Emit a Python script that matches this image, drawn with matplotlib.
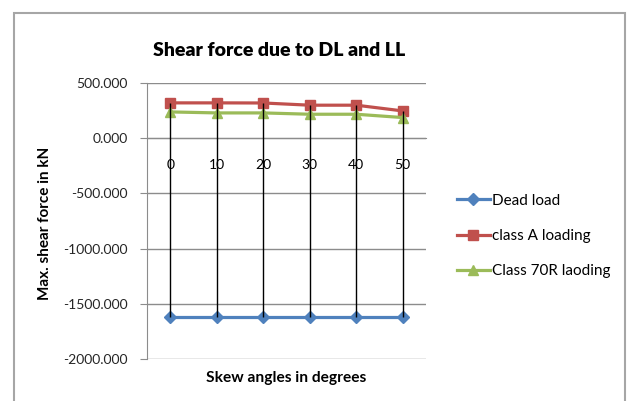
import matplotlib
matplotlib.use("Agg")
import numpy as np
from matplotlib import pyplot as plt
from matplotlib.patches import Rectangle

# Data
angles = ["0", "10", "20", "30", "40", "50"]
dead_load = [-1624, -1624, -1624, -1624, -1624, -1624]
class_a = [320, 320, 319, 299, 299, 247]
class_70r = [238, 229, 229, 217, 217, 187]
yticks = [500, 0, -500, -1000, -1500, -2000]

plt.rcParams['font.family'] = ['Lato', 'DejaVu Sans']

fig = plt.figure(figsize=(6.27, 4.01), dpi=100)
ax = fig.add_axes([147/627, 1-359/401, (426-147)/627, (359-83)/401])

x = np.arange(len(angles))

# chart frame (excel style)
fig.patches.append(Rectangle((14/627, -0.05), (625-14)/627, 1.05-13/401,
                             transform=fig.transFigure, fill=False,
                             edgecolor='#a6a6a6', linewidth=1.5))

ax.plot(x, dead_load, color='#4F81BD', lw=2.3, marker='D', ms=6, label='Dead load', zorder=3)
ax.plot(x, class_a, color='#C0504D', lw=2.3, marker='s', ms=7, label='class A loading', zorder=3)
ax.plot(x, class_70r, color='#9BBB59', lw=2.3, marker='^', ms=7, label='Class 70R laoding', zorder=3)

# high-low lines
hi = np.max([dead_load, class_a, class_70r], axis=0)
lo = np.min([dead_load, class_a, class_70r], axis=0)
ax.vlines(x, lo, hi, color='black', lw=1, zorder=4)

ax.set_xlim(-0.5, len(angles) - 0.5)
ax.set_ylim(-2000, 500)
ax.set_yticks(yticks)
ax.set_yticklabels(["%.3f" % v for v in yticks], fontsize=10, color='#262626')
ax.set_xticks(x)
ax.set_xticklabels(angles, fontsize=10.5, color='#262626')
ax.tick_params(axis='x', length=0, pad=15)
ax.tick_params(axis='y', length=5, color='#8c8c8c', pad=9)
ax.yaxis.grid(True, color='#8c8c8c', lw=1)
ax.set_axisbelow(True)

for s in ['top', 'right']:
    ax.spines[s].set_visible(False)
ax.spines['left'].set_color('#8c8c8c')
ax.spines['bottom'].set_color('#8c8c8c')
ax.spines['bottom'].set_position(('data', 0))

fig.text(279/627, 1-50/401, "Shear force due to DL and LL", ha='center', va='center',
         fontsize=14, fontweight='heavy', color='black')
fig.text(286/627, 1-378/401, "Skew angles in degrees", ha='center', va='center',
         fontsize=11.2, fontweight='bold', color='black')
fig.text(45/627, 1-223/401, "Max. shear force in kN", ha='center', va='center',
         rotation=90, fontsize=11, fontweight='bold', color='black')

fig.legend(loc='upper left', bbox_to_anchor=(449/627, 1-186/401), frameon=False,
           fontsize=11, handlelength=2.2, handletextpad=0.1, labelspacing=1.4,
           borderpad=0)

fig.savefig("out.png", dpi=100)
